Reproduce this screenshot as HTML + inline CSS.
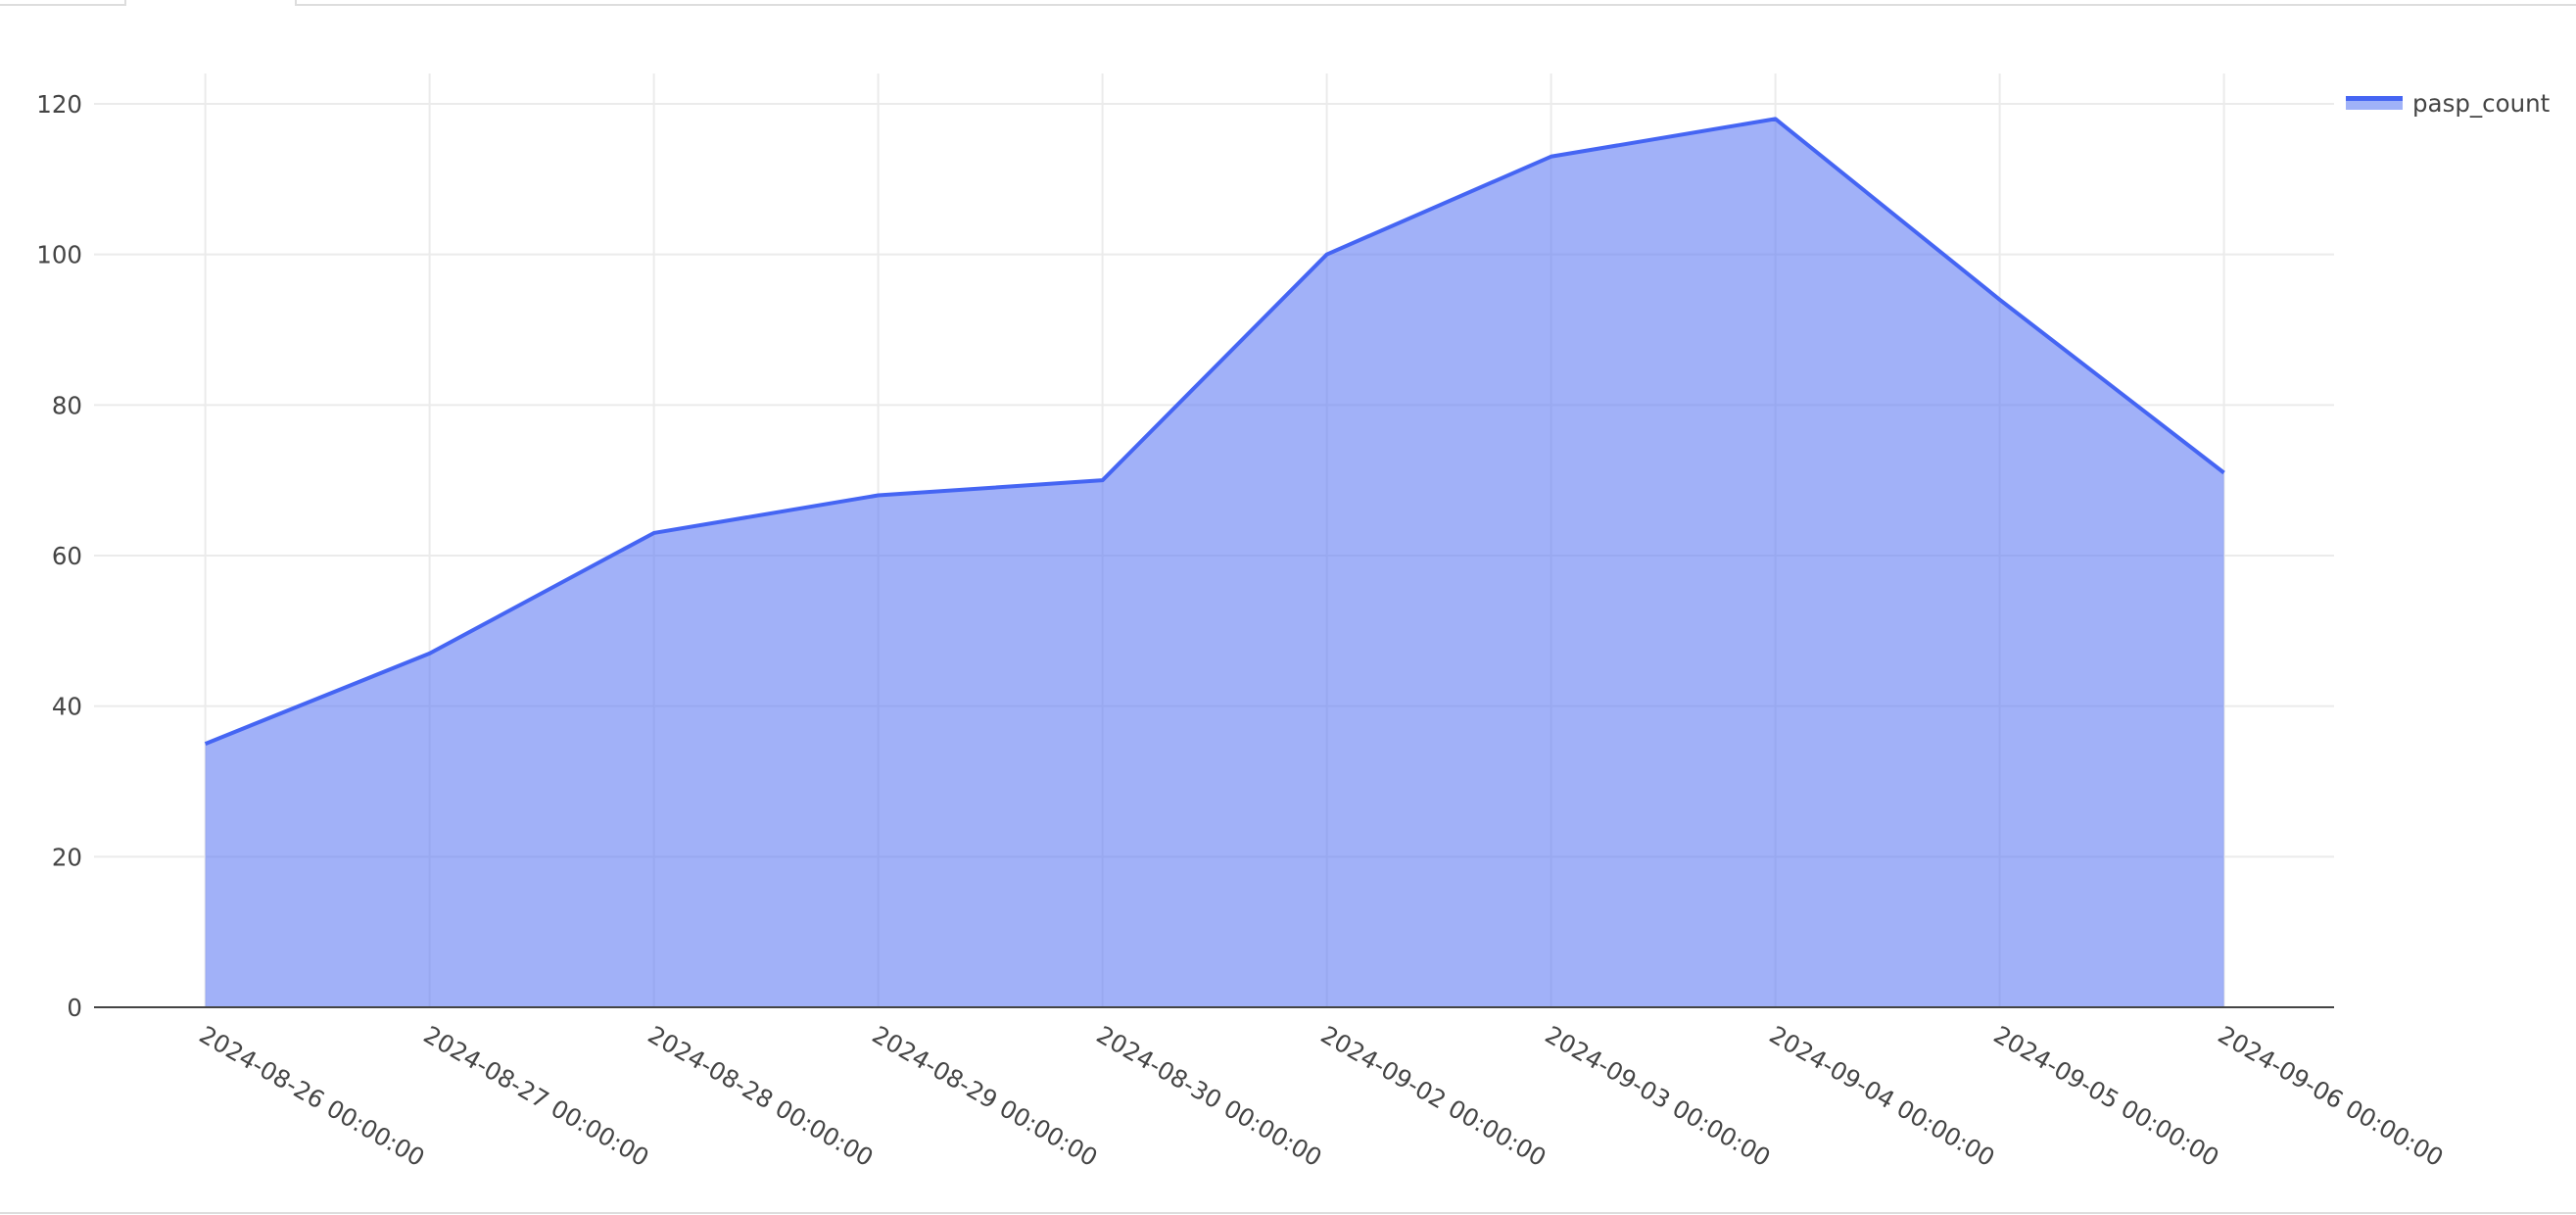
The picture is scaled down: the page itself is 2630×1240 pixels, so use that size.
<!DOCTYPE html>
<html><head><meta charset="utf-8"><style>
html,body{margin:0;padding:0;background:#fff;width:2630px;height:1240px;overflow:hidden}
svg text{font-family:"DejaVu Sans","Liberation Sans",sans-serif;fill:#444}
</style></head><body>
<svg id="chart" width="2630" height="1240" xmlns="http://www.w3.org/2000/svg">
<rect x="-2" y="-2" width="130" height="7" fill="#fff" stroke="#ddd" stroke-width="2"/>
<rect x="302" y="-2" width="2340" height="7" fill="#fff" stroke="#ddd" stroke-width="2"/>
<line x1="0" y1="1238" x2="2630" y2="1238" stroke="#ddd" stroke-width="2"/>
<g id="grid"></g><g id="area"></g><g id="axes"></g>
<g>
<rect x="2395" y="98" width="58" height="7" fill="#4565f3"/>
<rect x="2395" y="103" width="58" height="9" fill="#a0b2f8"/>
<text x="2463" y="114" font-size="24.5">pasp_count</text>
</g>
</svg>
<script>
const categories=["2024-08-26 00:00:00","2024-08-27 00:00:00","2024-08-28 00:00:00","2024-08-29 00:00:00","2024-08-30 00:00:00","2024-09-02 00:00:00","2024-09-03 00:00:00","2024-09-04 00:00:00","2024-09-05 00:00:00","2024-09-06 00:00:00"];
const values=[35,47,63,68,70,100,113,118,94,71];
const yTicks=[0,20,40,60,80,100,120];
const NS="http://www.w3.org/2000/svg";
const L=96,R=2383,T=75,B=1028;
const x0=209.6,dx=229;
function xs(i){return x0+i*dx;}
function ys(v){return B-v*(B-106)/120;}
function mk(tag,attrs,parent){const e=document.createElementNS(NS,tag);for(const k in attrs)e.setAttribute(k,attrs[k]);parent.appendChild(e);return e;}
const grid=document.getElementById('grid'),area=document.getElementById('area'),axes=document.getElementById('axes');
yTicks.forEach(t=>{
  if(t>0){const g=mk('line',{x1:L,x2:R,y1:ys(t),y2:ys(t),stroke:'#ebebeb','stroke-width':2},grid);
  
  }
  const tx=mk('text',{x:84,y:ys(t)+9,'text-anchor':'end','font-size':24.5},axes);
  tx.textContent=t;
  
  
});
categories.forEach((c,i)=>{
  const g=mk('line',{x1:xs(i),x2:xs(i),y1:T,y2:B,stroke:'#ebebeb','stroke-width':2},grid);
  
  
  const tx=mk('text',{x:0,y:0,'font-size':24.5,transform:`translate(${xs(i)-8},${B+33}) rotate(30)`},axes);
  tx.textContent=c;
  
  
});
let d=`M${xs(0)},${ys(0)}`;values.forEach((v,i)=>d+=` L${xs(i)},${ys(v)}`);d+=` L${xs(values.length-1)},${ys(0)} Z`;
const fill=mk('path',{d:d,fill:'rgba(99,125,244,0.6)'},area);


const line=mk('polyline',{points:values.map((v,i)=>xs(i)+','+ys(v)).join(' '),fill:'none',stroke:'#4565f3','stroke-width':4,'stroke-linejoin':'round'},area);


const ax=mk('line',{x1:L,x2:R,y1:B,y2:B,stroke:'#444','stroke-width':2},axes);


</script>
</body></html>
